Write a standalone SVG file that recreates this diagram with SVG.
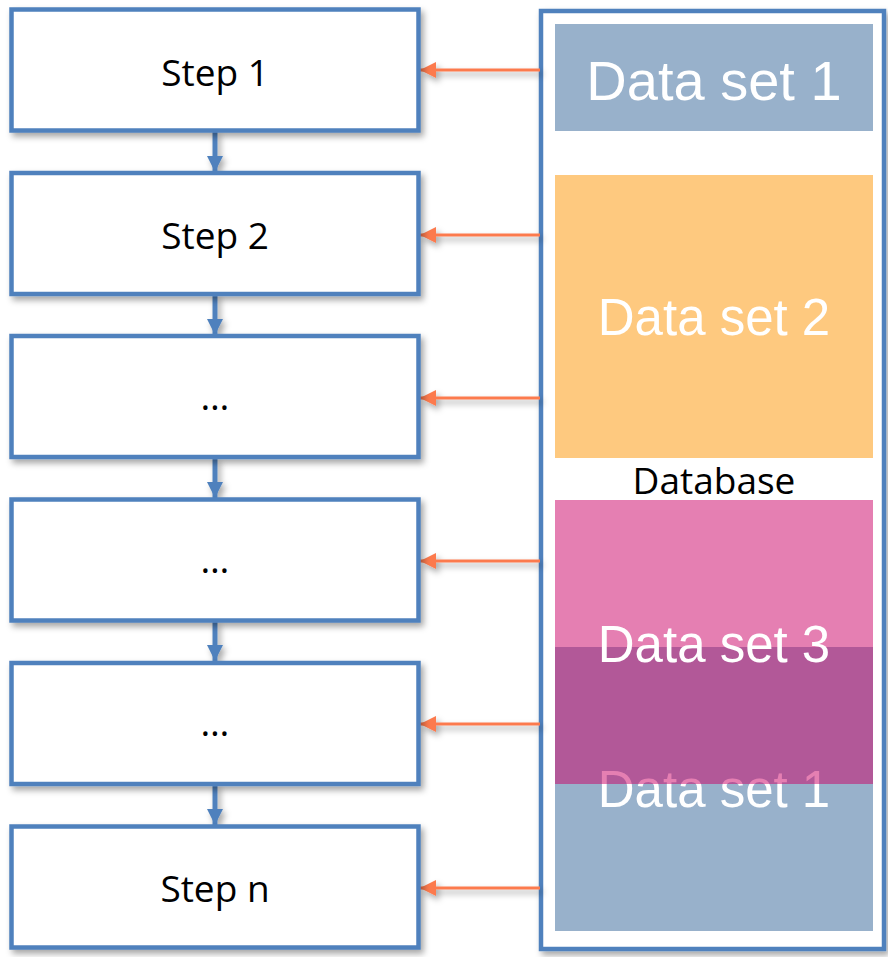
<svg xmlns="http://www.w3.org/2000/svg" width="888" height="957" viewBox="0 0 888 957">
<defs>
<filter id="sh" x="-10%" y="-10%" width="130%" height="140%">
<feDropShadow dx="3" dy="4" stdDeviation="3" flood-color="#000" flood-opacity="0.35"/>
</filter>
<marker id="ah" markerWidth="16" markerHeight="16" viewBox="0 0 16 16" refX="16" refY="8" orient="auto" markerUnits="userSpaceOnUse">
<path d="M0,0 L16,8 L0,16 Z" fill="#4F81BD"/>
</marker>
<marker id="oh" markerWidth="16" markerHeight="16" viewBox="0 0 16 16" refX="16" refY="8" orient="auto" markerUnits="userSpaceOnUse">
<path d="M0,0 L16,8 L0,16 Z" fill="#FC7A4E"/>
</marker>
</defs>
<style>
.box{fill:#fff;stroke:#4F81BD;stroke-width:4.5;filter:url(#sh)}
.lbl{font-family:"Open Sans","Noto Sans",sans-serif;font-size:37px;fill:#000;text-anchor:middle}
.ds{font-family:"Liberation Sans",Arial,sans-serif;fill:#fff;text-anchor:middle}
.down{stroke:#4F81BD;stroke-width:5;fill:none;marker-end:url(#ah)}
.feed{stroke:#FC7A4E;stroke-width:3;fill:none;marker-end:url(#oh)}
</style>
<g id="database">
<rect x="541" y="11" width="343" height="938" fill="#fff" stroke="#4F81BD" stroke-width="4.5" filter="url(#sh)"/>
<rect x="555" y="24" width="318" height="107" fill="#98B1CB"/>
<text class="ds" x="714" y="100" font-size="56">Data set 1</text>
<rect x="555" y="175" width="318" height="283" fill="#FEC97F"/>
<text class="ds" x="714" y="335" font-size="51">Data set 2</text>
<text class="lbl" x="714" y="494">Database</text>
<rect x="555" y="647" width="318" height="284" fill="#98B1CB"/>
<text class="ds" x="714" y="807" font-size="51">Data set 1</text>
<rect x="555" y="500" width="318" height="284" fill="#CC0066" fill-opacity="0.5"/>
<text class="ds" x="714" y="662" font-size="51">Data set 3</text>
</g>
<g id="connectors" filter="url(#sh)">
<line class="down" x1="215" y1="131" x2="215" y2="172"/>
<line class="down" x1="215" y1="294" x2="215" y2="335"/>
<line class="down" x1="215" y1="458" x2="215" y2="498"/>
<line class="down" x1="215" y1="621" x2="215" y2="661"/>
<line class="down" x1="215" y1="784" x2="215" y2="825"/>
<line class="feed" x1="540" y1="70" x2="420" y2="70"/>
<line class="feed" x1="540" y1="235" x2="420" y2="235"/>
<line class="feed" x1="540" y1="398" x2="420" y2="398"/>
<line class="feed" x1="540" y1="561" x2="420" y2="561"/>
<line class="feed" x1="540" y1="724" x2="420" y2="724"/>
<line class="feed" x1="540" y1="888" x2="420" y2="888"/>
</g>
<g id="step1"><rect class="box" x="11.5" y="9.5" width="407" height="121"/><text class="lbl" x="215" y="86">Step 1</text></g>
<g id="step2"><rect class="box" x="11.5" y="173" width="407" height="121"/><text class="lbl" x="215" y="249">Step 2</text></g>
<g id="step3"><rect class="box" x="11.5" y="336" width="407" height="121"/><text class="lbl" x="215" y="410">…</text></g>
<g id="step4"><rect class="box" x="11.5" y="499.5" width="407" height="121"/><text class="lbl" x="215" y="573">…</text></g>
<g id="step5"><rect class="box" x="11.5" y="663" width="407" height="121"/><text class="lbl" x="215" y="736">…</text></g>
<g id="step6"><rect class="box" x="11.5" y="826.5" width="407" height="121"/><text class="lbl" x="215" y="902">Step n</text></g>
</svg>
